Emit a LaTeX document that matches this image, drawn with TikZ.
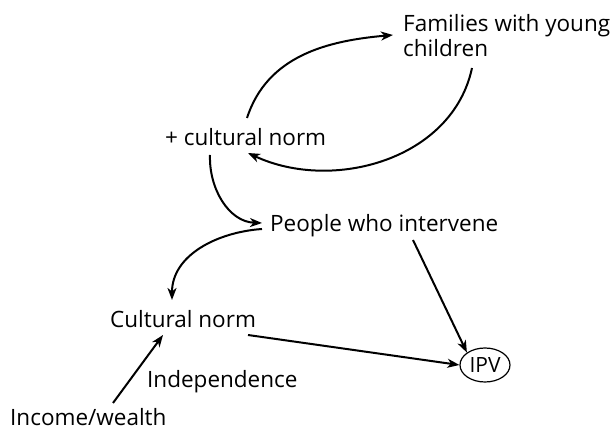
\documentclass[tikz,border=0pt]{standalone}
\usepackage{fontspec}
\setmainfont{Open Sans}
\usetikzlibrary{arrows.meta,shapes.geometric}
\begin{document}
\begin{tikzpicture}[x=1pt,y=1pt,
  lbl/.style={inner sep=0pt,font=\fontsize{22.5}{25}\selectfont},
  conn/.style={line width=2pt,-{Stealth[length=12pt,width=9pt,inset=3.5pt]}}]
\useasboundingbox (0,0) rectangle (614,431);
\node[lbl,anchor=north west,align=left] (fam) at (403,417) {Families with young\\children};
\node[lbl,anchor=base west] (pcn) at (165,285) {+ cultural norm};
\node[lbl,anchor=base west] (ppl) at (270,199) {People who intervene};
\node[lbl,anchor=base west] (cn) at (110,103) {Cultural norm};
\node[lbl,anchor=base west] (ind) at (147,43) {Independence};
\node[lbl,anchor=base west] (inc) at (10,5) {Income/wealth};
\node[ellipse,draw,line width=1.2pt,inner sep=0pt,minimum width=50pt,minimum height=34pt,font=\fontsize{21}{25}\selectfont] (ipv) at (485,66) {IPV};
% loop
\draw[conn] ([shift={(82,28)}]pcn.base west) to[out=72,in=185] ([shift={(-10,-21)}]fam.north west);
\draw[conn] ([shift={(69,-54)}]fam.north west) to[out=-102,in=-25] ([shift={(83,-7)}]pcn.base west);
\draw[conn] ([shift={(45,-9)}]pcn.base west) to[out=-92,in=178] ([shift={(-8,9)}]ppl.base west);
\draw[conn] ([shift={(-8,3)}]ppl.base west) to[out=184,in=90] ([shift={(62,28)}]cn.base west);
\draw[conn] ([shift={(143,-8)}]ppl.base west) -- (ipv.north west);
\draw[conn] ([shift={(138,-7)}]cn.base west) -- (ipv.west);
\draw[conn] ([shift={(103,23)}]inc.base west) -- ([shift={(53,-7)}]cn.base west);
\end{tikzpicture}
\end{document}
